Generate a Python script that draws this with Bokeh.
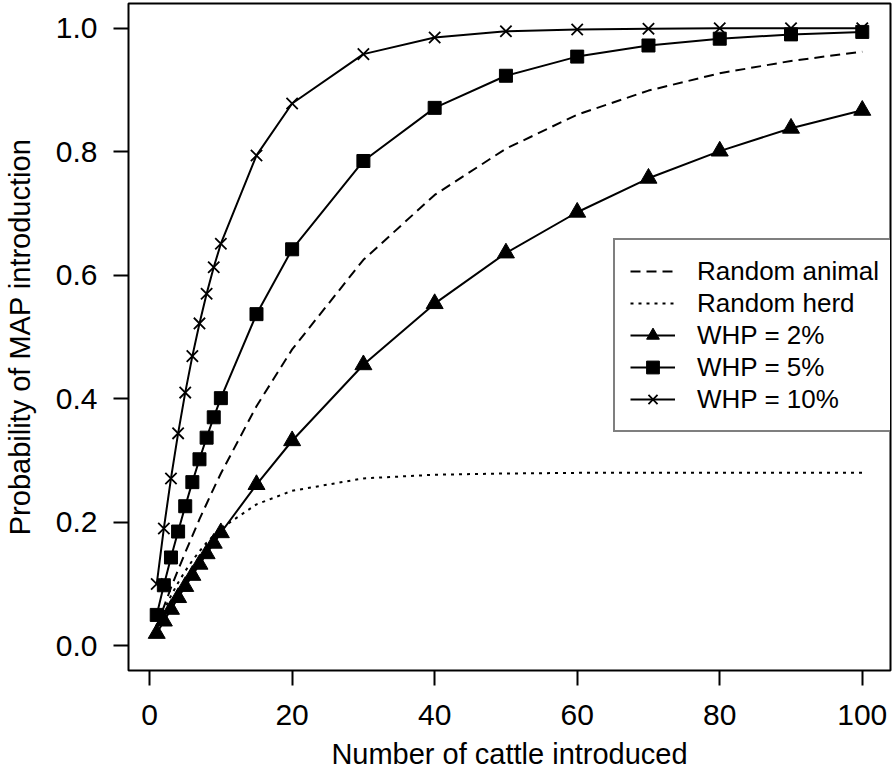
from bokeh.plotting import figure
from bokeh.models import Range1d, FixedTicker, NumeralTickFormatter, Legend, LegendItem
from bokeh.embed import file_html
from bokeh.resources import INLINE

# Data
n_cattle = [1, 2, 3, 4, 5, 6, 7, 8, 9, 10, 15, 20, 30, 40, 50, 60, 70, 80, 90, 100]
random_animal = [0.032, 0.063, 0.094, 0.123, 0.151, 0.178, 0.205, 0.230, 0.255, 0.279,
                 0.388, 0.480, 0.625, 0.730, 0.805, 0.860, 0.899, 0.927, 0.947, 0.962]
random_herd = [0.030, 0.057, 0.081, 0.102, 0.121, 0.138, 0.153, 0.167, 0.179, 0.190,
               0.229, 0.251, 0.271, 0.277, 0.279, 0.280, 0.280, 0.280, 0.280, 0.280]
whp_2 = [0.020, 0.040, 0.059, 0.078, 0.096, 0.114, 0.132, 0.149, 0.166, 0.183,
         0.261, 0.332, 0.455, 0.554, 0.636, 0.702, 0.757, 0.801, 0.838, 0.867]
whp_5 = [0.050, 0.098, 0.143, 0.185, 0.226, 0.265, 0.302, 0.337, 0.370, 0.401,
         0.537, 0.642, 0.785, 0.871, 0.923, 0.954, 0.972, 0.983, 0.990, 0.994]
whp_10 = [0.100, 0.190, 0.271, 0.344, 0.410, 0.469, 0.522, 0.570, 0.613, 0.651,
          0.794, 0.878, 0.958, 0.985, 0.995, 0.998, 0.999, 1.000, 1.000, 1.000]

x_ticks = [0, 20, 40, 60, 80, 100]
y_ticks = [0.0, 0.2, 0.4, 0.6, 0.8, 1.0]
labels = ["Random animal", "Random herd", "WHP = 2%", "WHP = 5%", "WHP = 10%"]

FONT = "Liberation Sans"

p = figure(width=894, height=781, output_backend="svg", toolbar_location=None,
           x_range=Range1d(-2.96, 103.96), y_range=Range1d(-0.04, 1.04),
           min_border_left=127, min_border_right=4, min_border_top=3, min_border_bottom=111)
p.background_fill_color = "white"
p.border_fill_color = "white"
p.outline_line_color = "black"
p.outline_line_width = 2
p.xgrid.visible = False
p.ygrid.visible = False

for ax in (p.xaxis[0], p.yaxis[0]):
    ax.axis_line_color = None
    ax.major_tick_line_color = "black"
    ax.major_tick_line_width = 2
    ax.major_tick_out = 15
    ax.major_tick_in = 0
    ax.minor_tick_line_color = None
    ax.major_label_text_font = FONT
    ax.major_label_text_font_size = "30px"
    ax.major_label_text_color = "black"
    ax.axis_label_text_font = FONT
    ax.axis_label_text_font_size = "29px"
    ax.axis_label_text_font_style = "normal"
    ax.axis_label_text_color = "black"

p.xaxis.ticker = FixedTicker(ticks=x_ticks)
p.yaxis.ticker = FixedTicker(ticks=y_ticks)
p.yaxis.formatter = NumeralTickFormatter(format="0.0")
p.yaxis.major_label_orientation = "horizontal"
p.xaxis.axis_label = "Number of cattle introduced"
p.yaxis.axis_label = "Probability of MAP introduction"
p.xaxis.major_label_standoff = 19
p.xaxis.axis_label_standoff = 10
p.yaxis.major_label_standoff = 16
p.yaxis.axis_label_standoff = 17

r_animal = p.line(n_cattle, random_animal, line_color="black", line_width=2, line_dash="10 6")
r_herd = p.line(n_cattle, random_herd, line_color="black", line_width=2, line_dash="3 5")

l2 = p.line(n_cattle, whp_2, line_color="black", line_width=2)
m2 = p.scatter(n_cattle, whp_2, marker="triangle", size=17, fill_color="black", line_color="black")
l5 = p.line(n_cattle, whp_5, line_color="black", line_width=2)
m5 = p.scatter(n_cattle, whp_5, marker="square", size=13, fill_color="black", line_color="black")
l10 = p.line(n_cattle, whp_10, line_color="black", line_width=2)
m10 = p.scatter(n_cattle, whp_10, marker="x", size=16, line_color="black", line_width=1.8)

legend = Legend(items=[
    LegendItem(label=labels[0], renderers=[r_animal]),
    LegendItem(label=labels[1], renderers=[r_herd]),
    LegendItem(label=labels[2], renderers=[l2, m2]),
    LegendItem(label=labels[3], renderers=[l5, m5]),
    LegendItem(label=labels[4], renderers=[l10, m10]),
], location=(485, 238))
legend.margin = 0
legend.padding = 15
legend.spacing = 0
legend.label_height = 32
legend.glyph_height = 32
legend.glyph_width = 45
legend.label_standoff = 22
legend.label_text_font = FONT
legend.label_text_font_size = "26px"
legend.label_text_color = "black"
legend.border_line_color = "black"
legend.border_line_width = 2
legend.background_fill_color = "white"
legend.background_fill_alpha = 1.0
p.add_layout(legend)

open("out.html", "w").write(file_html(p, INLINE))
